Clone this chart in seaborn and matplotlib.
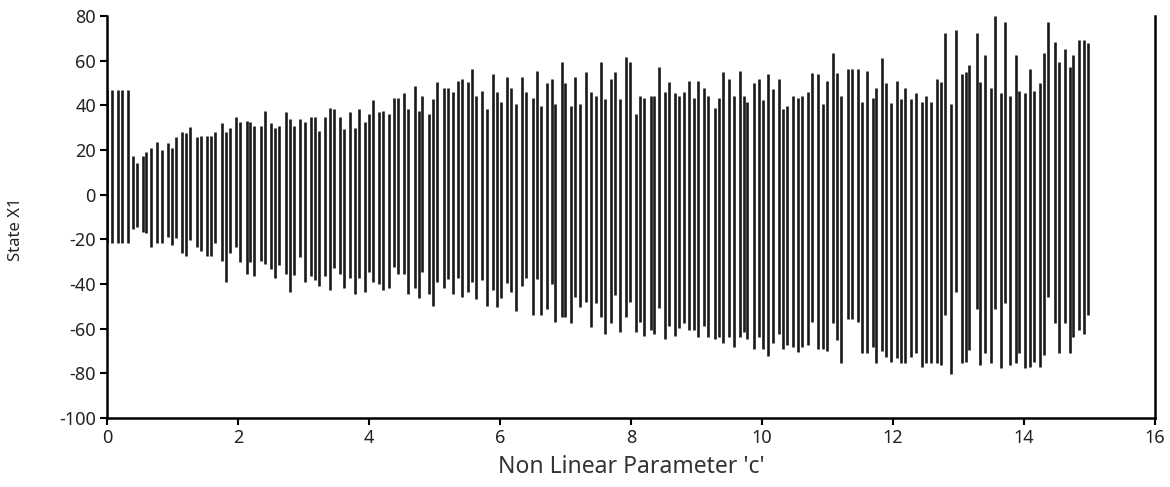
import numpy as np
import pandas as pd
import matplotlib
matplotlib.use("Agg")
import matplotlib.pyplot as plt
import seaborn as sns

# Bifurcation sweep: for each value of the non-linear parameter c,
# the range of state X1 visited after transients (upper and lower extremes).
c_values = [
    0.0, 0.075, 0.16, 0.23, 0.32,
    0.39, 0.45, 0.545, 0.6, 0.67, 0.77, 0.835, 0.93, 0.99, 1.05,
    1.15, 1.21, 1.27, 1.37, 1.43, 1.52, 1.59, 1.65, 1.75, 1.81, 1.88, 1.97,
    2.03, 2.13, 2.19, 2.25, 2.35, 2.41, 2.51, 2.57, 2.63, 2.73, 2.8, 2.86,
    2.95, 3.02, 3.12, 3.17, 3.24, 3.33, 3.4, 3.46, 3.56, 3.62, 3.71, 3.78,
    3.85, 3.94, 4.0,
    4.06, 4.15, 4.21, 4.31, 4.38, 4.44, 4.53, 4.59, 4.7, 4.76, 4.81, 4.91,
    4.98, 5.04, 5.14, 5.2, 5.29, 5.36, 5.42, 5.51, 5.58, 5.64, 5.73, 5.8,
    5.9, 5.96, 6.02,
    6.11, 6.17, 6.24, 6.33, 6.4, 6.5, 6.56, 6.62, 6.72, 6.79, 6.84, 6.94,
    7.0, 7.09, 7.15, 7.22, 7.32, 7.39, 7.47, 7.54, 7.6, 7.69, 7.76, 7.83,
    7.92, 7.98,
    8.07, 8.14, 8.2, 8.3, 8.36, 8.43, 8.52, 8.58, 8.68, 8.74, 8.81, 8.89,
    8.97, 9.03, 9.12, 9.18, 9.28, 9.34, 9.4, 9.5, 9.57, 9.66, 9.72, 9.78,
    9.88, 9.95, 10.01,
    10.1, 10.17, 10.26, 10.33, 10.39, 10.48, 10.55, 10.61, 10.71, 10.77,
    10.86, 10.93, 11.0, 11.08, 11.15, 11.21, 11.31, 11.38, 11.47, 11.53,
    11.6, 11.69, 11.75, 11.84, 11.9, 11.97,
    12.07, 12.13, 12.19, 12.28, 12.35, 12.45, 12.51, 12.58, 12.67, 12.73,
    12.79, 12.89, 12.96, 13.05, 13.11, 13.17, 13.28, 13.33, 13.4, 13.5,
    13.56, 13.65, 13.72, 13.79, 13.88, 13.93, 14.02,
    14.09, 14.16, 14.24, 14.31, 14.37, 14.47, 14.53, 14.63, 14.7, 14.75,
    14.85, 14.92, 14.98,
]

x1_max = [
    47, 47, 47, 47, 47,
    17.5, 14, 17.5, 19.3, 20.8, 23.7, 20, 23.3, 20.8, 26,
    28.2, 27.5, 30.2, 26, 26.4, 26.3, 26.3, 28.2, 32, 28.2, 29.7, 35,
    32.5, 33, 32.4, 30.9, 30.9, 37.5, 32, 30, 30.9, 36.9, 33.9, 30.9,
    33.9, 32.4, 34.9, 34.9, 28.5, 34.9, 39, 38.2, 34.9, 29.4, 36.9, 30,
    38.2, 32.4, 36,
    42.4, 36.9, 37.5, 36, 43.4, 43.1, 45.4, 38.3, 48.8, 37.5, 44.2, 36,
    42.7, 50.3, 47.9, 47.9, 46.1, 50.9, 51.8, 50.6, 56.3, 44.2, 46.4, 38.3,
    53.9, 46.1, 41.3,
    52.8, 47.9, 40.4, 52.8, 46.1, 43.1, 55.4, 39.7, 49.8, 51.8, 40.4, 59.5,
    49.8, 39.7, 52.8, 40.6, 54.8, 46.1, 44.3, 59.5, 42.7, 51.8, 54.8, 42.7,
    61.8, 59.5,
    36.1, 44.2, 43.4, 44.3, 44.3, 57.3, 46.1, 50.3, 45.4, 44.3, 46.1, 50.9,
    43.4, 50.9, 47.9, 44.3, 39, 43.1, 54.8, 51.8, 44.3, 55.4, 44.3, 41.3,
    49.8, 51.6, 42.4,
    53.9, 47.2, 51.6, 38.4, 39.7, 44.2, 43.2, 44.2, 46.1, 54.6,
    53.9, 40.6, 50.9, 63.3, 54.6, 44.2, 56.3, 56.3, 56.3, 41.3,
    55.4, 43.2, 47.9, 61.0, 49.8, 40.9,
    50.9, 42.9, 47.9, 42.7, 45.4, 41.4, 44.2, 41.4, 51.8, 50.6,
    72.2, 40.5, 73.7, 53.9, 54.8, 58.1, 72.2, 50.6, 62.5, 47.9,
    80, 45.4, 77.2, 44.2, 62.5, 46.4, 45.4,
    56.1, 46.4, 49.9, 63.3, 77.2, 68.2, 59.6, 65.1, 57.3, 62.5,
    69.3, 69.3, 67.8,
]

x1_min = [
    -21.5, -21.5, -21.5, -21.5, -21.5,
    -15.5, -14.6, -16.6, -17, -23.6, -21.8, -21.8, -18.8, -22.5, -19.5,
    -26.3, -27.3, -20.3, -23.6, -25, -27.3, -27.3, -21.5, -29.5, -39, -26.3, -23.6,
    -30.3, -35.5, -30, -36.4, -29.7, -31.2, -33.1, -37.2, -31.5, -35.5, -43.4, -36,
    -27.8, -39, -36.4, -38.2, -40.9, -36.4, -42.7, -33, -35.7, -41.9, -37.5, -44.6,
    -37.5, -43.7, -34.8,
    -39.3, -40.1, -42.7, -42, -32.2, -35.7, -35.7, -44.6, -42, -46.1, -34.8, -44.6,
    -49.7, -39.3, -42, -37.8, -44.6, -37.5, -45.7, -43.7, -39.3, -46.7, -38.2, -49.7,
    -42.7, -50.2, -46.4,
    -39.7, -43.4, -52.1, -40.9, -37.2, -53.9, -37.9, -53.9, -51.3, -40, -56.9, -54.6,
    -54.6, -57.6, -45.7, -50.2, -47.9, -59.1, -48.7, -54.6, -62.4, -57.6, -44.9, -61.4,
    -54.9, -47.9,
    -61.6, -56.9, -63.3, -60.6, -62.4, -50.6, -64.6, -58.8, -63.3, -59.9, -57.6, -60.6,
    -60.6, -63.6, -58.8, -63.6, -64.6, -63.6, -66.6, -63.6, -68.1, -63.6, -61.4, -64.6,
    -69.3, -63.6, -69.3,
    -72.1, -66.6, -62.4, -69.3, -67.3, -68.1, -70.6, -68.1, -67.3, -56.9,
    -69.3, -69.3, -69.9, -57.6, -65.1, -75.5, -55.8, -55.8, -56.9, -71,
    -71, -68.1, -75.5, -69.9, -72.6, -74.8,
    -73.3, -75.5, -75.5, -72.5, -71, -77, -75.5, -75.5, -75.5, -76.2,
    -53.9, -80.4, -43.4, -75.5, -74.8, -69.6, -51.3, -76.2, -71, -75.5,
    -51.3, -77.7, -48.6, -76.2, -75.5, -71, -77.7,
    -77, -74.8, -77, -71.8, -45.7, -57.6, -71, -57.6, -71, -63.6,
    -60.6, -62.4, -53.9,
]

x_ticks = [0, 2, 4, 6, 8, 10, 12, 14, 16]
y_ticks = [-100, -80, -60, -40, -20, 0, 20, 40, 60, 80]

# Long-form table: each parameter value contributes a two-point vertical segment.
rows = []
for i, (c, hi, lo) in enumerate(zip(c_values, x1_max, x1_min)):
    rows.append({"seg": i, "c": c, "x1": lo})
    rows.append({"seg": i, "c": c, "x1": hi})
df = pd.DataFrame(rows)

sns.set_theme(style="white")
plt.rcParams["font.family"] = ["Noto Sans", "DejaVu Sans"]

fig = plt.figure(figsize=(11.7, 4.87), dpi=100)
ax = fig.add_axes([0.0915, 0.1417, 0.8955, 0.8254])

sns.lineplot(data=df, x="c", y="x1", units="seg", estimator=None,
             color="#1a1a1a", linewidth=1.9, sort=False, ax=ax,
             solid_capstyle="butt")

ax.set_xlim(0, 16)
ax.set_ylim(-100, 80)
ax.set_xticks(x_ticks)
ax.set_yticks(y_ticks)
ax.set_xticklabels([str(t) for t in x_ticks])
ax.set_yticklabels([str(t) for t in y_ticks])

for side in ("left", "bottom", "right"):
    ax.spines[side].set_visible(True)
    ax.spines[side].set_color("black")
    ax.spines[side].set_linewidth(1.8)
ax.spines["top"].set_visible(False)

ax.tick_params(axis="both", which="major", direction="out", length=5,
               width=1.5, color="black", labelsize=13, labelcolor="#222222",
               pad=3, bottom=True, left=True)

ax.set_xlabel("Non Linear Parameter 'c'", fontsize=16.5, color="#333333", labelpad=6)
ax.set_ylabel("State X1", fontsize=12, color="#222222")
ax.yaxis.set_label_coords(-0.079, 0.47)
ax.grid(False)

fig.savefig("out.png", dpi=100)
